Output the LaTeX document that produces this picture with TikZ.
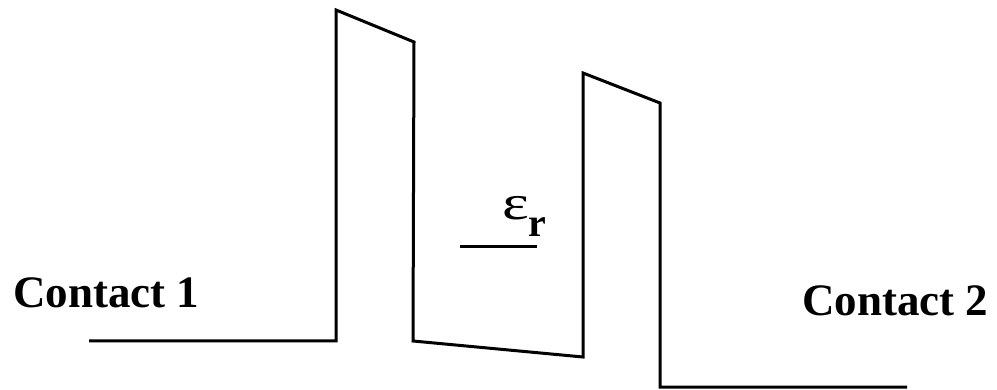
\documentclass[tikz,border=0pt]{standalone}
\usepackage{fontspec}
\setmainfont{Liberation Serif}
\begin{document}
\begin{tikzpicture}[x=1pt,y=-1pt,
  band/.style={line width=3pt,line join=miter,black},
  contact/.style={font=\fontsize{45}{50}\selectfont\bfseries,inner sep=0pt,anchor=base west},
  level/.style={line width=3pt,black}]
\useasboundingbox (0,0) rectangle (997,390);
\coordinate (c1) at (89,341);
\coordinate (b1l) at (336,341);
\coordinate (b1t) at (336,10);
\coordinate (b1r) at (414,42);
\coordinate (w1) at (413,341);
\coordinate (w2) at (583,357);
\coordinate (b2t) at (583,73);
\coordinate (b2r) at (660,103);
\coordinate (b2b) at (660,387);
\coordinate (c2) at (907,387);
\draw[band] (c1) -- (b1l) -- (b1t) -- (b1r) -- (w1) -- (w2) -- (b2t) -- (b2r) -- (b2b) -- (c2);
\coordinate (la) at (460,247);
\coordinate (lb) at (537,247);
\draw[level] (la) -- (lb);
\node[contact] (t1) at (13,308) {Contact 1};
\node[contact] (t2) at (802,316) {Contact 2};
\node[inner sep=0pt,anchor=base west,font=\fontsize{49}{49}\selectfont] (eps) at (502,220)
  {\scalebox{1.3}[1]{ε}\raisebox{-17pt}{\fontsize{40}{40}\selectfont\bfseries r}};
\end{tikzpicture}
\end{document}
